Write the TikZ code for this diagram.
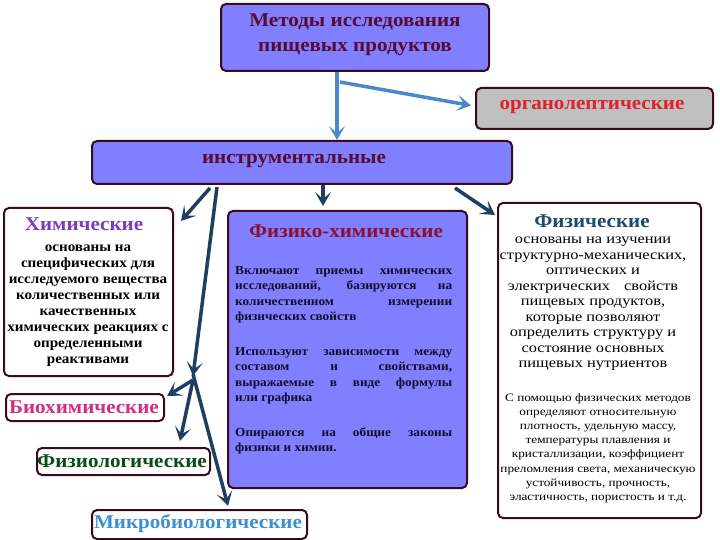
\documentclass[tikz,border=0pt]{standalone}
\usepackage{fontspec}
\setmainfont{Liberation Serif}[FakeStretch=1.08]
\newfontfamily\widefont{Liberation Serif}[FakeStretch=1.17]
\usetikzlibrary{arrows.meta,calc}
\definecolor{lav}{HTML}{7F7FFF}
\definecolor{bord}{HTML}{3C0A1E}
\definecolor{ttl}{HTML}{5A0A30}
\definecolor{navy}{HTML}{1E3F60}
\definecolor{lblue}{HTML}{4A88CC}
\definecolor{orgred}{HTML}{E0202A}
\definecolor{orggray}{HTML}{C0C0C0}
\definecolor{chemp}{HTML}{7A3CC0}
\definecolor{fxred}{HTML}{8A1030}
\definecolor{physb}{HTML}{1F4A6A}
\definecolor{biop}{HTML}{D0307A}
\definecolor{physg}{HTML}{0A4A1A}
\definecolor{microb}{HTML}{3A90D0}
\definecolor{bodyt}{HTML}{10102A}
\begin{document}
\begin{tikzpicture}[x=1pt,y=-1pt,
  box/.style={draw=bord,line width=2pt,rounded corners=5pt,anchor=north west,inner sep=0pt},
  ttext/.style={font=\fontsize{19.5}{25}\selectfont\bfseries,align=center,inner sep=0pt},
  body/.style={font=\fontsize{13}{16}\selectfont\bfseries,align=center,inner sep=0pt},
  navyarr/.style={draw=navy,line width=3.5pt,-{Stealth[length=14pt,width=16pt,inset=7pt]}},
  bluearr/.style={draw=lblue,line width=3.5pt,-{Stealth[length=14pt,width=16pt,inset=7pt]}}]
\useasboundingbox (0,0) rectangle (720,540);
% boxes
\node[box,fill=lav,minimum width=268pt,minimum height=67pt] (title) at (220,3) {};
\node[box,fill=orggray,minimum width=237pt,minimum height=41pt] (org) at (475,87) {};
\node[box,fill=lav,minimum width=420pt,minimum height=43pt] (inst) at (91,140) {};
\node[box,fill=white,minimum width=169pt,minimum height=168pt] (chem) at (3,207) {};
\node[box,fill=lav,minimum width=239pt,minimum height=277pt] (fx) at (227,210) {};
\node[box,fill=white,minimum width=203pt,minimum height=315pt] (phys) at (497,202) {};
\node[box,fill=white,minimum width=158pt,minimum height=27pt] (bio) at (5,393) {};
\node[box,fill=white,minimum width=173pt,minimum height=27pt] (fiz) at (36,447) {};
\node[box,fill=white,minimum width=215pt,minimum height=29pt] (mic) at (91,509) {};
% texts
\node[ttext,text=ttl] (titlet) at (355,35) {Методы исследования\\пищевых продуктов};
\node[ttext,text=orgred] (orgt) at (592,107) {органолептические};
\node[ttext,text=ttl] (instt) at (294,161) {инструментальные};
\node[ttext,text=chemp] (chemt) at (84,224) {Химические};
\node[body,text=black,font=\fontsize{14}{16}\selectfont\bfseries] (chemb) at (88,306) {основаны на\\специфических для\\исследуемого вещества\\количественных или\\качественных\\химических реакциях с\\определенными\\реактивами};
\node[ttext,text=fxred] (fxt) at (346,231) {Физико-химические};
\node[body,text=bodyt,align=justify,text width=217pt,anchor=north west,font=\fontsize{12.3}{15.5}\selectfont\bfseries] (fxb) at (235,266) {Включают приемы химических\linebreak исследований, базируются на\linebreak количественном измерении\linebreak физических свойств\par\vspace{19pt}
Используют зависимости между\linebreak составом и свойствами,\linebreak выражаемые в виде формулы\linebreak или графика\par\vspace{19pt}
Опираются на общие законы\linebreak физики и химии.};
\node[ttext,text=physb] (physt) at (592,221) {Физические};
\node[body,text=black,font=\widefont\fontsize{14}{15.5}\selectfont] (physb1) at (593,304) {основаны на изучении\\структурно-механических,\\оптических и\\электрических\quad свойств\\пищевых продуктов,\\которые позволяют\\определить структуру и\\состояние основных\\пищевых нутриентов};
\node[body,text=black,font=\widefont\fontsize{11.3}{14.2}\selectfont] (physb2) at (598,448) {С помощью физических методов\\определяют относительную\\плотность, удельную массу,\\температуры плавления и\\кристаллизации, коэффициент\\преломления света, механическую\\устойчивость, прочность,\\эластичность, пористость и т.д.};
\node[ttext,text=biop] (biot) at (84,407) {Биохимические};
\node[ttext,text=physg] (fizt) at (122,461) {Физиологические};
\node[ttext,text=microb] (mict) at (198,524) {Микробиологические};
% arrows
\coordinate (tsplit) at (337,72);
\draw[bluearr] (tsplit) -- (inst.north -| tsplit);
\draw[bluearr] ($(tsplit)+(3,10)$) -- ($(org.west)+(-4,-3)$);
\draw[navyarr] ($(inst.south west)+(119,3)$) -- ($(chem.north east)+(7,14)$);
\draw[navyarr] (inst.south -| 323,0) -- ($(fx.north west)+(96,-4)$);
\draw[navyarr] ($(inst.south west)+(364,3)$) -- ($(phys.north west)+(-2,13)$);
\coordinate (br) at (193,376);
\draw[navyarr] ($(inst.south west)+(126,2)$) -- (br);
\draw[navyarr] ($(br)+(0,4)$) -- ($(bio.north east)+(2,3)$);
\draw[navyarr] ($(br)+(0,4)$) -- ($(fiz.north west)+(144,-6)$);
\draw[navyarr] ($(br)+(0,-2)$) -- ($(mic.north west)+(137,-3)$);
\end{tikzpicture}
\end{document}
